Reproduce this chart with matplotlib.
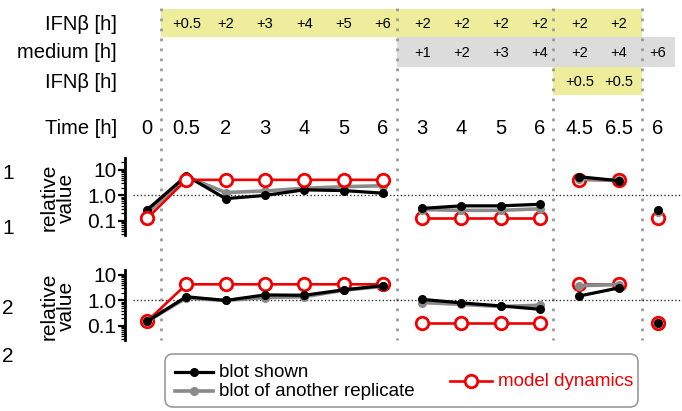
import matplotlib
matplotlib.use("Agg")
import matplotlib.pyplot as plt
from matplotlib.patches import Rectangle, FancyBboxPatch
from matplotlib.lines import Line2D
from matplotlib.transforms import blended_transform_factory
from matplotlib.ticker import FixedLocator, FixedFormatter, LogLocator, NullFormatter

plt.rcParams["font.family"] = ["Liberation Sans", "DejaVu Sans"]

# ---- data -------------------------------------------------------------
time_labels = ["0", "0.5", "2", "3", "4", "5", "6", "3", "4", "5", "6", "4.5", "6.5", "6"]
ifn_first = ["", "+0.5", "+2", "+3", "+4", "+5", "+6", "+2", "+2", "+2", "+2", "+2", "+2", ""]
medium_wash = ["", "", "", "", "", "", "", "+1", "+2", "+3", "+4", "+2", "+4", "+6"]
ifn_second = ["", "", "", "", "", "", "", "", "", "", "", "+0.5", "+0.5", ""]
row_labels = ["IFNβ [h]", "medium [h]", "IFNβ [h]"]
groups = [(0, 7), (7, 11), (11, 13), (13, 14)]

shown_1 = [0.27, 5.9, 0.75, 1.0, 1.66, 1.55, 1.23, 0.31, 0.39, 0.39, 0.45, 5.4, 3.8, 0.28]
replicate_1 = [0.2, 5.5, 1.3, 1.5, 1.9, 2.2, 2.4, 0.28, 0.26, 0.26, 0.3, 4.4, 3.9, 0.22]
model_1 = [0.125, 4.1, 4.1, 4.1, 4.1, 4.1, 4.1, 0.13, 0.13, 0.13, 0.13, 4.1, 3.9, 0.13]

shown_2 = [0.15, 1.4, 1.0, 1.65, 1.6, 2.6, 3.8, 1.1, 0.8, 0.61, 0.45, 1.5, 3.1, 0.13]
replicate_2 = [0.15, 1.25, 1.0, 1.3, 1.4, 2.5, 3.6, 0.83, 0.7, 0.58, 0.65, 3.8, 4.2, 0.13]
model_2 = [0.15, 4.3, 4.3, 4.3, 4.3, 4.3, 4.3, 0.13, 0.13, 0.13, 0.13, 4.5, 4.5, 0.13]

panels = [
    (shown_1, replicate_1, model_1),
    (shown_2, replicate_2, model_2),
]

# ---- styling ----------------------------------------------------------
W, H = 682, 411
COL0, COLSTEP = 147.0, 39.31          # pixel position of column 0 and spacing
AX_LEFT = 125.0
YELLOW = "#eded9b"
GREY_CELL = "#dcdcdc"
RED = "#f00000"
REPL = "#8a8a8a"
separators = [0.36, 6.36, 10.33, 12.59]
grey_end = 13.43
red_on_top = [[True, False, False, False], [False, False, False, False]]

shown_line = dict(color="black", lw=2.3)
shown_mark = dict(color="black", marker="o", ms=6.5, mew=0, ls="none")
repl_line = dict(color=REPL, lw=2.6)
repl_mark = dict(color=REPL, marker="o", ms=6.5, mew=0, ls="none")
model_line = dict(color=RED, lw=1.9)
model_mark = dict(color=RED, marker="o", ms=9, mew=2.0, mfc="white", mec=RED, ls="none")


def px2col(px):
    return (px - COL0) / COLSTEP


fig = plt.figure(figsize=(W / 100, H / 100), dpi=100)

# background layer in pixel units
bg = fig.add_axes([0, 0, 1, 1], zorder=0)
bg.set_xlim(0, W)
bg.set_ylim(H, 0)
bg.axis("off")

# data panels: (top px, bottom px, ylim)
panel_boxes = [(158, 235, (0.028, 29.5)), (270, 340, (0.028, 15.7))]
axes = []
for top, bottom, ylim in panel_boxes:
    ax = fig.add_axes([AX_LEFT / W, (H - bottom) / H, (W - AX_LEFT) / W, (bottom - top) / H],
                      zorder=2)
    ax.set_facecolor("none")
    ax.set_xlim(px2col(AX_LEFT), px2col(W))
    ax.set_yscale("log")
    ax.set_ylim(*ylim)
    for s in ["top", "right", "bottom"]:
        ax.spines[s].set_visible(False)
    ax.spines["left"].set_linewidth(2.0)
    ax.set_xticks([])
    ax.yaxis.set_major_locator(FixedLocator([0.1, 1, 10]))
    ax.yaxis.set_major_formatter(FixedFormatter(["0.1", "1.0", "10"]))
    ax.yaxis.set_minor_locator(LogLocator(base=10, subs=range(2, 10), numticks=20))
    ax.yaxis.set_minor_formatter(NullFormatter())
    ax.tick_params(axis="y", which="major", length=5, width=1.6, labelsize=15, pad=1)
    ax.tick_params(axis="y", which="minor", length=3, width=0.9)
    ax.axhline(1.0, xmin=0.015, xmax=1, color="#333333", lw=1.0,
               ls=(0, (1, 1.6)), zorder=1)
    axes.append(ax)

# header and separators use column units horizontally, pixels vertically
hdr = blended_transform_factory(axes[0].transData, bg.transData)

row_bands = [(9, 37), (37, 67), (67, 95)]
band_spans = [(separators[0], separators[3], YELLOW),
              (separators[1], grey_end, GREY_CELL),
              (separators[2], separators[3], YELLOW)]
for (y0, y1), (x0, x1, c) in zip(row_bands, band_spans):
    bg.add_patch(Rectangle((x0, y0), x1 - x0, y1 - y0, transform=hdr,
                           facecolor=c, edgecolor="none", zorder=0))

for row, (y0, y1) in zip([ifn_first, medium_wash, ifn_second], row_bands):
    for i, txt in enumerate(row):
        if txt:
            bg.text(i, (y0 + y1) / 2 + 1, txt, transform=hdr, ha="center",
                    va="center", fontsize=10.5, zorder=3)

for lab, (y0, y1) in zip(row_labels, row_bands):
    bg.text(117, (y0 + y1) / 2 + 1, lab, ha="right", va="center", fontsize=14.5)
bg.text(117, 128, "Time [h]", ha="right", va="center", fontsize=14.5)
for i, t in enumerate(time_labels):
    bg.text(i, 128, t, transform=hdr, ha="center", va="center", fontsize=14.5)

for sx in separators:
    bg.plot([sx, sx], [8, 340], transform=hdr, color="#9a9a9a", lw=2.0,
            ls=(0, (1, 2.6)), zorder=1)

# y-axis titles and row markers
for top, bottom, _ in panel_boxes:
    yc = 0.5 * (top + bottom) + 1
    bg.text(58, yc, "relative\nvalue", rotation=90, ha="center", va="center",
            fontsize=15, linespacing=0.88, multialignment="center")
for y, t in [(173, "1"), (228, "1"), (308, "2"), (356, "2")]:
    bg.text(2, y, t, ha="left", va="center", fontsize=15)

# data series
for p, (ax, (shown, repl, model)) in enumerate(zip(axes, panels)):
    for g, (a, b) in enumerate(groups):
        xs = list(range(a, b))
        zr = 6 if red_on_top[p][g] else 3
        ax.plot(xs, repl[a:b], marker="o", ms=6.5, mew=0, zorder=4,
                clip_on=False, **repl_line)
        ax.plot(xs, shown[a:b], marker="o", ms=6.5, mew=0, zorder=5,
                clip_on=False, **shown_line)
        ax.plot(xs, model[a:b], marker="o", ms=9, mew=2.0, mfc="white", mec=RED,
                zorder=zr, clip_on=False, **model_line)

# legend box
bg.add_patch(FancyBboxPatch((165, 354), 473, 53,
                            boxstyle="round,pad=0,rounding_size=8",
                            facecolor="white", edgecolor="#9a9a9a", lw=1.2, zorder=2))
legend_items = [
    (175, 213, 372, "blot shown", "black", shown_line, shown_mark),
    (175, 213, 391, "blot of another replicate", "black", repl_line, repl_mark),
    (450, 492, 381, "model dynamics", RED, model_line, model_mark),
]
for x0, x1, y, label, tc, lstyle, mstyle in legend_items:
    bg.add_line(Line2D([x0, x1], [y, y], zorder=3, **lstyle))
    bg.add_line(Line2D([(x0 + x1) / 2], [y], zorder=4, **mstyle))
    bg.text(x1 + 6, y, label, ha="left", va="center", fontsize=13.5, color=tc, zorder=4)

fig.savefig("out.png", dpi=100)
